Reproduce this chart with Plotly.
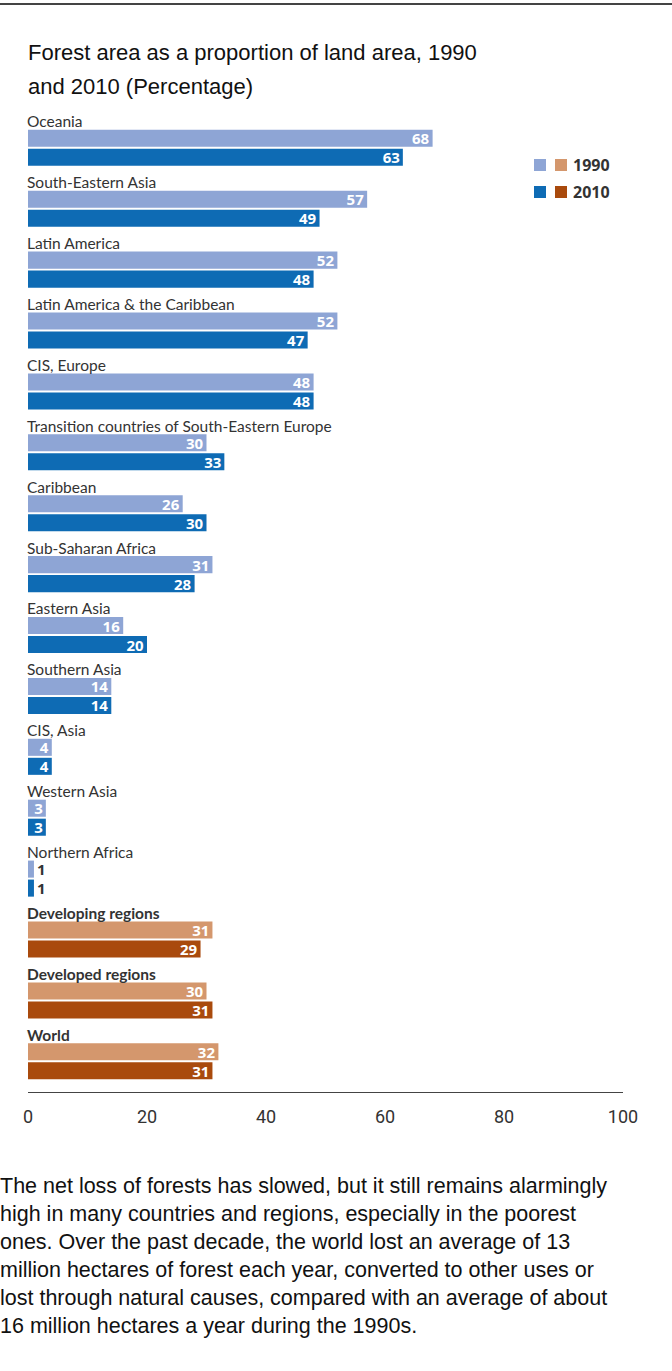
import plotly.graph_objects as go

categories = ["Oceania", "South-Eastern Asia", "Latin America", "Latin America & the Caribbean",
              "CIS, Europe", "Transition countries of South-Eastern Europe", "Caribbean",
              "Sub-Saharan Africa", "Eastern Asia", "Southern Asia", "CIS, Asia", "Western Asia",
              "Northern Africa", "Developing regions", "Developed regions", "World"]
v1990 = [68, 57, 52, 52, 48, 30, 26, 31, 16, 14, 4, 3, 1, 31, 30, 32]
v2010 = [63, 49, 48, 47, 48, 33, 30, 28, 20, 14, 4, 3, 1, 29, 31, 31]
aggregate = ["Developing regions", "Developed regions", "World"]
xticks = [0, 20, 40, 60, 80, 100]

title_lines = ["Forest area as a proportion of land area, 1990",
               "and 2010 (Percentage)"]
para_text = ("The net loss of forests has slowed, but it still remains alarmingly<br>"
             "high in many countries and regions, especially in the poorest<br>"
             "ones. Over the past decade, the world lost an average of 13<br>"
             "million hectares of forest each year, converted to other uses or<br>"
             "lost through natural causes, compared with an average of about<br>"
             "16 million hectares a year during the 1990s.")

C90_REG, C10_REG = "#8EA5D5", "#0E6BB4"
C90_AGG, C10_AGG = "#D4976D", "#A94A0D"

n = len(categories)
pos1 = [i for i in range(n)]
pos2 = [i + 0.312 for i in range(n)]
is_agg = [c in aggregate for c in categories]

def tpos(vals):
    return ["outside" if v < 2 else "inside" for v in vals]

def bar(pos, vals, colors):
    return go.Bar(
        y=pos, x=vals, orientation="h", width=0.28,
        marker=dict(color=colors, line=dict(width=0)),
        text=[str(v) for v in vals], textposition=tpos(vals), insidetextanchor="end",
        textangle=0, constraintext="none",
        insidetextfont=dict(color="white", size=15, family="Open Sans"),
        outsidetextfont=dict(color="#333333", size=15, family="Open Sans"),
        texttemplate="<b>%{text}</b>", cliponaxis=False, hoverinfo="skip", showlegend=False)

fig = go.Figure()
fig.add_trace(bar(pos1, v1990, [C90_AGG if a else C90_REG for a in is_agg]))
fig.add_trace(bar(pos2, v2010, [C10_AGG if a else C10_REG for a in is_agg]))

annotations = []
for i, c in enumerate(categories):
    annotations.append(dict(
        x=0, y=i - 0.28, xref="x", yref="y", xanchor="left", yanchor="middle",
        text=("<b>%s</b>" % c) if c in aggregate else c, showarrow=False, xshift=-3,
        font=dict(size=15.5, color="#333333", family="Lato")))

W, H = 672, 1371
L, T = 28, 110
R = W - 623
B = H - 1092
pw, ph = W - L - R, H - T - B

def px(x):
    return (x - L) / pw

def py(y):
    return (H - B - y) / ph

for line, yc in zip(title_lines, (52, 86)):
    annotations.append(dict(x=px(26), y=py(yc), xref="paper", yref="paper", xanchor="left", yanchor="middle",
                            text=line, showarrow=False, align="left",
                            font=dict(size=22, color="#111111", family="Liberation Sans")))
annotations.append(dict(x=px(-2), y=py(1172), xref="paper", yref="paper", xanchor="left", yanchor="top",
                        text=para_text, showarrow=False, align="left",
                        font=dict(size=21.5, color="#111111", family="Liberation Sans")))
for label, yc in (("1990", 165), ("2010", 192)):
    annotations.append(dict(x=px(571), y=py(yc), xref="paper", yref="paper", xanchor="left", yanchor="middle",
                            text="<b>" + label + "</b>", showarrow=False,
                            font=dict(size=16, color="#333333", family="Open Sans")))

shapes = [dict(type="line", xref="paper", yref="paper", x0=px(0), x1=px(672), y0=py(4), y1=py(4),
               line=dict(color="#444444", width=2))]
for (c1, c2), yc in (((C90_REG, C90_AGG), 165), ((C10_REG, C10_AGG), 192)):
    for c, x0 in ((c1, 534), (c2, 555)):
        shapes.append(dict(type="rect", xref="paper", yref="paper", x0=px(x0), x1=px(x0 + 12),
                           y0=py(yc + 6), y1=py(yc - 6), fillcolor=c, line=dict(width=0)))

fig.update_layout(
    width=W, height=H, margin=dict(l=L, r=R, t=T, b=B),
    paper_bgcolor="white", plot_bgcolor="white", barmode="overlay",
    annotations=annotations, shapes=shapes,
    xaxis=dict(range=[0, 100], tickvals=xticks, ticktext=[str(t) for t in xticks],
               showgrid=False, zeroline=False, showline=True, linecolor="#444444", linewidth=1,
               ticks="", ticklabelstandoff=8,
               tickfont=dict(size=18, color="#333333", family="Liberation Sans Narrow, Roboto, Lato")),
    yaxis=dict(range=[15.66, -0.465], visible=False, showgrid=False, zeroline=False),
)

fig.write_html("out.html", config={"displayModeBar": False},
               post_script="document.body.style.margin='0';document.body.style.overflow='hidden';")
